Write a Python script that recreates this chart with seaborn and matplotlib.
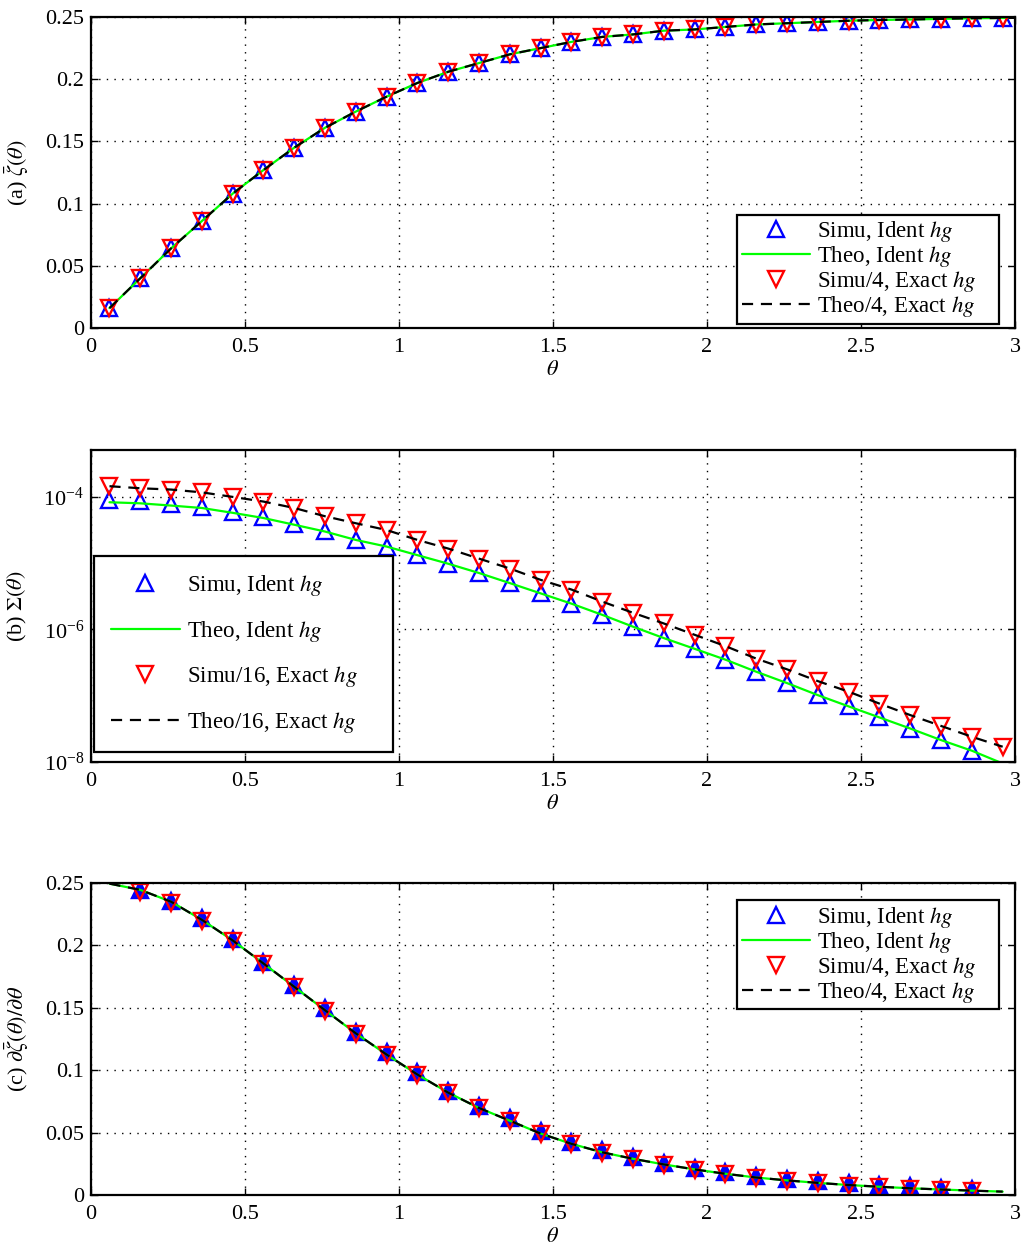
import matplotlib
matplotlib.use("Agg")
import matplotlib.pyplot as plt
import seaborn as sns
from matplotlib.lines import Line2D
from matplotlib.ticker import FuncFormatter, NullLocator

# ---------------- data ----------------
theta_pts = [0.06, 0.16, 0.26, 0.36, 0.46, 0.56, 0.66, 0.76, 0.86, 0.96,
             1.06, 1.16, 1.26, 1.36, 1.46, 1.56, 1.66, 1.76, 1.86, 1.96,
             2.06, 2.16, 2.26, 2.36, 2.46, 2.56, 2.66, 2.76, 2.86, 2.96]

# (a) zeta_bar(theta)
zeta_simu_ident = [0.016, 0.040, 0.064, 0.086, 0.108, 0.127, 0.145, 0.161, 0.174, 0.186,
                   0.197, 0.206, 0.213, 0.220, 0.225, 0.230, 0.234, 0.236, 0.239, 0.240,
                   0.242, 0.244, 0.245, 0.246, 0.247, 0.2476, 0.248, 0.2485, 0.249, 0.2492]
zeta_simu_exact4 = [0.016, 0.040, 0.064, 0.086, 0.108, 0.127, 0.145, 0.161, 0.174, 0.186,
                    0.197, 0.206, 0.213, 0.220, 0.225, 0.230, 0.234, 0.236, 0.239, 0.240,
                    0.242, 0.244, 0.245, 0.246, 0.247, 0.2476, 0.248, 0.2485, 0.249, 0.2492]
theta_line_a = [0.06, 0.16, 0.26, 0.36, 0.46, 0.56, 0.66, 0.76, 0.86, 0.96,
                1.06, 1.16, 1.26, 1.36, 1.46, 1.56, 1.66, 1.76, 1.86, 1.96,
                2.06, 2.16, 2.26, 2.36, 2.46, 2.56, 2.66, 2.76, 2.86, 2.96, 3.0]
zeta_theo_ident = [0.016, 0.040, 0.064, 0.086, 0.108, 0.127, 0.145, 0.161, 0.174, 0.186,
                   0.197, 0.206, 0.213, 0.220, 0.225, 0.230, 0.234, 0.236, 0.239, 0.240,
                   0.242, 0.244, 0.245, 0.246, 0.247, 0.2476, 0.248, 0.2485, 0.249, 0.2492, 0.2493]
zeta_theo_exact4 = [0.016, 0.040, 0.064, 0.086, 0.108, 0.127, 0.145, 0.161, 0.174, 0.186,
                    0.197, 0.206, 0.213, 0.220, 0.225, 0.230, 0.234, 0.236, 0.239, 0.240,
                    0.242, 0.244, 0.245, 0.246, 0.247, 0.2476, 0.248, 0.2485, 0.249, 0.2492, 0.2493]

# (b) Sigma(theta)  (log scale)
theta_b_ident = theta_pts[:29]
sigma_simu_ident = [9.1e-5, 8.6e-5, 7.9e-5, 7.1e-5, 6.0e-5, 4.9e-5, 3.9e-5, 3.05e-5, 2.25e-5, 1.78e-5,
                    1.32e-5, 9.8e-6, 7.1e-6, 5.0e-6, 3.5e-6, 2.45e-6, 1.66e-6, 1.10e-6, 7.4e-7, 5.1e-7,
                    3.5e-7, 2.3e-7, 1.55e-7, 1.02e-7, 6.9e-8, 4.7e-8, 3.2e-8, 2.14e-8, 1.48e-8]
sigma_theo_ident = [8.3e-5, 8.0e-5, 7.4e-5, 6.8e-5, 5.75e-5, 4.8e-5, 3.8e-5, 3.0e-5, 2.24e-5, 1.78e-5,
                    1.32e-5, 9.8e-6, 7.1e-6, 5.0e-6, 3.5e-6, 2.45e-6, 1.66e-6, 1.10e-6, 7.4e-7, 5.1e-7,
                    3.5e-7, 2.3e-7, 1.55e-7, 1.02e-7, 6.9e-8, 4.7e-8, 3.2e-8, 2.14e-8, 1.48e-8, 9.5e-9]
sigma_simu_exact16 = [1.45e-4, 1.36e-4, 1.29e-4, 1.18e-4, 1.0e-4, 8.5e-5, 6.8e-5, 5.1e-5, 4.0e-5, 3.2e-5,
                      2.25e-5, 1.66e-5, 1.17e-5, 8.3e-6, 5.6e-6, 4.0e-6, 2.63e-6, 1.78e-6, 1.23e-6, 8.3e-7,
                      5.6e-7, 3.63e-7, 2.5e-7, 1.66e-7, 1.15e-7, 7.6e-8, 5.1e-8, 3.5e-8, 2.4e-8, 1.7e-8]
sigma_theo_exact16 = [1.45e-4, 1.35e-4, 1.29e-4, 1.17e-4, 1.0e-4, 8.5e-5, 6.8e-5, 5.1e-5, 4.0e-5, 3.16e-5,
                      2.24e-5, 1.66e-5, 1.17e-5, 8.3e-6, 5.6e-6, 4.0e-6, 2.63e-6, 1.78e-6, 1.23e-6, 8.3e-7,
                      5.6e-7, 3.63e-7, 2.5e-7, 1.66e-7, 1.15e-7, 7.6e-8, 5.1e-8, 3.5e-8, 2.4e-8, 1.7e-8]

# (c) d zeta_bar / d theta
theta_c = theta_pts[1:29]
dzeta_simu_ident = [0.2445, 0.2357, 0.2216, 0.2055, 0.187, 0.1684, 0.1497, 0.131, 0.1142, 0.0982,
                    0.0835, 0.0715, 0.0613, 0.0509, 0.0426, 0.0359, 0.0306, 0.026, 0.022, 0.0186,
                    0.0154, 0.0132, 0.0114, 0.0095, 0.0082, 0.0071, 0.006, 0.0052]
dzeta_simu_exact4 = [0.2425, 0.2337, 0.2196, 0.2035, 0.185, 0.1664, 0.1477, 0.129, 0.1122, 0.0962,
                     0.0815, 0.0695, 0.0593, 0.0489, 0.0406, 0.0339, 0.0286, 0.024, 0.020, 0.0166,
                     0.0134, 0.0112, 0.0094, 0.0075, 0.0062, 0.0051, 0.004, 0.0032]
dzeta_theo = [0.2495, 0.2445, 0.2350, 0.2205, 0.2040, 0.1855, 0.1668, 0.1480, 0.1295, 0.1125,
              0.0965, 0.0820, 0.0697, 0.0595, 0.0492, 0.0410, 0.0342, 0.0290, 0.0245, 0.0205,
              0.0170, 0.0140, 0.0117, 0.0097, 0.0080, 0.0066, 0.0054, 0.0044, 0.0035, 0.0027]

labels_a = ["Simu, Ident $hg$", "Theo, Ident $hg$", "Simu/4, Exact $hg$", "Theo/4, Exact $hg$"]
labels_b = ["Simu, Ident $hg$", "Theo, Ident $hg$", "Simu/16, Exact $hg$", "Theo/16, Exact $hg$"]

# ---------------- style ----------------
sns.set_style("ticks")
plt.rcParams.update({
    "font.family": ["Liberation Serif", "DejaVu Serif"],
    "mathtext.fontset": "stix",
    "font.size": 16,
    "text.color": "black",
    "axes.labelcolor": "black",
    "axes.edgecolor": "black",
    "axes.linewidth": 1.6,
    "xtick.color": "black",
    "ytick.color": "black",
    "xtick.direction": "in",
    "ytick.direction": "in",
    "xtick.top": True,
    "ytick.right": True,
    "xtick.major.size": 5,
    "ytick.major.size": 5,
    "xtick.major.width": 1.0,
    "ytick.major.width": 1.0,
    "xtick.labelsize": 16,
    "ytick.labelsize": 16,
})

BLUE, GREEN, RED, BLACK = "#0000ff", "#00ff00", "#ff0000", "#000000"
DASH = (0, (5, 3.5))

fig = plt.figure(figsize=(10.24, 12.53), dpi=100)
W, H = 1024, 1253


def add_ax(top, bottom, left=91, right=1015):
    return fig.add_axes([left / W, 1 - bottom / H, (right - left) / W, (bottom - top) / H])


ax_a = add_ax(17, 328)
ax_b = add_ax(450, 762)
ax_c = add_ax(883, 1195)


def sim(ax, x, y, marker, color, ms, filled=False):
    sns.lineplot(x=x, y=y, ax=ax, estimator=None, marker=marker, linestyle="",
                 markersize=ms, color=color, markeredgecolor=color,
                 markerfacecolor=color if filled else "none", markeredgewidth=1.7)


def theo(ax, x, y, color, ls):
    sns.lineplot(x=x, y=y, ax=ax, estimator=None, color=color, linestyle=ls, linewidth=1.6)


def style_axis(ax):
    ax.set_xlim(0, 3)
    ax.set_xticks([0, 0.5, 1, 1.5, 2, 2.5, 3])
    ax.xaxis.set_major_formatter(FuncFormatter(lambda v, p: "%g" % v))
    ax.grid(True, which="major", color="black", linestyle=(0, (1, 4.5)), linewidth=1.0)
    ax.tick_params(axis="x", pad=7)
    ax.tick_params(axis="y", pad=5)
    ax.set_xlabel(r"$\theta$", labelpad=3)
    for s in ax.spines.values():
        s.set_visible(True)
        s.set_linewidth(1.6)


def make_legend(ax, labels, ms, **kw):
    handles = [
        Line2D([], [], linestyle="", marker="^", markersize=ms, markerfacecolor="none",
               markeredgecolor=BLUE, markeredgewidth=1.7),
        Line2D([], [], color=GREEN, linewidth=1.6),
        Line2D([], [], linestyle="", marker="v", markersize=ms, markerfacecolor="none",
               markeredgecolor=RED, markeredgewidth=1.7),
        Line2D([], [], color=BLACK, linestyle=DASH, linewidth=1.6),
    ]
    leg = ax.legend(handles, [lab + "    " for lab in labels], fancybox=False, framealpha=1,
                    edgecolor="black", borderaxespad=0, handlelength=3.0, handletextpad=0.3,
                    fontsize=16.5, **kw)
    leg.get_frame().set_linewidth(1.6)
    return leg


# ---- (a) ----
sim(ax_a, theta_pts, zeta_simu_ident, "^", BLUE, 11)
theo(ax_a, theta_line_a, zeta_theo_ident, GREEN, "-")
sim(ax_a, theta_pts, zeta_simu_exact4, "v", RED, 11)
theo(ax_a, theta_line_a, zeta_theo_exact4, BLACK, DASH)
style_axis(ax_a)
ax_a.set_ylim(0, 0.25)
ax_a.set_yticks([0, 0.05, 0.1, 0.15, 0.2, 0.25])
ax_a.yaxis.set_major_formatter(FuncFormatter(lambda v, p: "%g" % v))
ax_a.set_ylabel(r"(a) $\bar{\zeta}(\theta)$", labelpad=10)
make_legend(ax_a, labels_a, 11, loc="lower right", bbox_to_anchor=(0.983, 0.013),
            labelspacing=0.0, borderpad=0.2)

# ---- (b) ----
sim(ax_b, theta_b_ident, sigma_simu_ident, "^", BLUE, 12)
theo(ax_b, theta_pts, sigma_theo_ident, GREEN, "-")
sim(ax_b, theta_pts, sigma_simu_exact16, "v", RED, 12)
theo(ax_b, theta_pts, sigma_theo_exact16, BLACK, DASH)
ax_b.set_yscale("log")
style_axis(ax_b)
ax_b.set_ylim(1e-8, 5.1e-4)
ax_b.set_yticks([1e-8, 1e-6, 1e-4])
ax_b.yaxis.set_minor_locator(NullLocator())
ax_b.set_ylabel(r"(b) $\Sigma(\theta)$", labelpad=10)
make_legend(ax_b, labels_b, 12, loc="lower left", bbox_to_anchor=(0.003, 0.032),
            labelspacing=0.9, borderpad=0.75)

# ---- (c) ----
sim(ax_c, theta_c, dzeta_simu_ident, "^", BLUE, 11, filled=True)
theo(ax_c, theta_pts, dzeta_theo, GREEN, "-")
sim(ax_c, theta_c, dzeta_simu_exact4, "v", RED, 11)
theo(ax_c, theta_pts, dzeta_theo, BLACK, DASH)
style_axis(ax_c)
ax_c.set_ylim(0, 0.25)
ax_c.set_yticks([0, 0.05, 0.1, 0.15, 0.2, 0.25])
ax_c.yaxis.set_major_formatter(FuncFormatter(lambda v, p: "%g" % v))
ax_c.set_ylabel(r"(c) $\partial\bar{\zeta}(\theta)/\partial\theta$", labelpad=10)
make_legend(ax_c, labels_a, 11, loc="upper right", bbox_to_anchor=(0.983, 0.9455),
            labelspacing=0.0, borderpad=0.2)

fig.savefig("out.png", dpi=100, facecolor="white")
